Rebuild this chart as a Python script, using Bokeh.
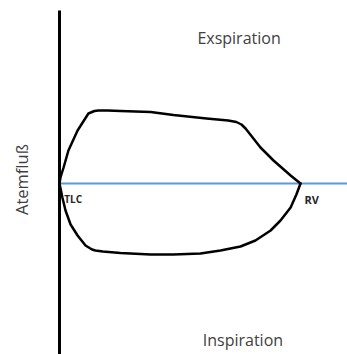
from bokeh.plotting import figure
from bokeh.models import Range1d
from bokeh.embed import file_html
from bokeh.resources import INLINE
from bokeh.core.properties import value

# Flow-volume loop (volume: 0 = TLC, 100 = RV; flow: + expiration, - inspiration)
exp_volume = [0, 0.4, 1.7, 3.7, 7.5, 12.0, 14.5, 16.2, 20.0, 25.3, 37.8, 47.3, 61.0, 70.0, 73.4, 75.5, 77.2, 83.4, 88.8, 95.9, 100]
exp_flow   = [0, 6, 16, 33, 53, 70, 72.5, 73, 73, 72.5, 71.5, 68.5, 65, 63, 61.5, 59, 55, 36, 23, 8, 0]

insp_volume = [0, 1.2, 2.5, 4.6, 7.5, 10.8, 13.5, 14.9, 18.0, 25.3, 37.8, 47.3, 58.5, 66.8, 75.1, 81.3, 87.6, 91.7, 95.9, 98.3, 100]
insp_flow   = [0, -14, -27, -41, -52, -62, -66, -67, -68, -69.5, -71, -71, -70, -67, -63, -57, -47, -37, -24, -11, 0]

axis_flow = [173, -175]
axis_volume = [0, 0]
baseline_volume = [0, 120]
baseline_flow = [0, 0]

p = figure(width=347, height=354, output_backend="svg", toolbar_location=None,
           x_range=Range1d(-24.48, 119.5), y_range=Range1d(-171, 183),
           min_border=0)
p.axis.visible = False
p.grid.visible = False
p.outline_line_color = None
p.background_fill_color = "white"
p.border_fill_color = "white"

p.line(baseline_volume, baseline_flow, line_color="#5B9BD5", line_width=2.2)
p.line(axis_volume, axis_flow, line_color="black", line_width=3)
p.line(exp_volume, exp_flow, line_color="black", line_width=2.5, line_join="round", line_cap="round")
p.line(insp_volume, insp_flow, line_color="black", line_width=2.5, line_join="round", line_cap="round")

font = value("Open Sans")
p.text(x=[74.5], y=[145.5], text=["Exspiration"], text_font=font, text_font_size="16px",
       text_color="#404040", text_align="center", text_baseline="middle")
p.text(x=[76.1], y=[-156.5], text=["Inspiration"], text_font=font, text_font_size="16px",
       text_color="#404040", text_align="center", text_baseline="middle")
p.text(x=[-15.8], y=[4], text=["Atemfluß"], text_font=font, text_font_size="16.5px",
       text_color="#404040", text_align="center", text_baseline="middle", angle=1.5708)
p.text(x=[2.0], y=[-15.5], text=["TLC"], text_font=font, text_font_size="10px",
       text_font_style="bold", text_color="#262626", text_align="left", text_baseline="middle")
p.text(x=[101.7], y=[-16], text=["RV"], text_font=font, text_font_size="11px",
       text_font_style="bold", text_color="#262626", text_align="left", text_baseline="middle")

open("out.html", "w").write(file_html(p, INLINE))
